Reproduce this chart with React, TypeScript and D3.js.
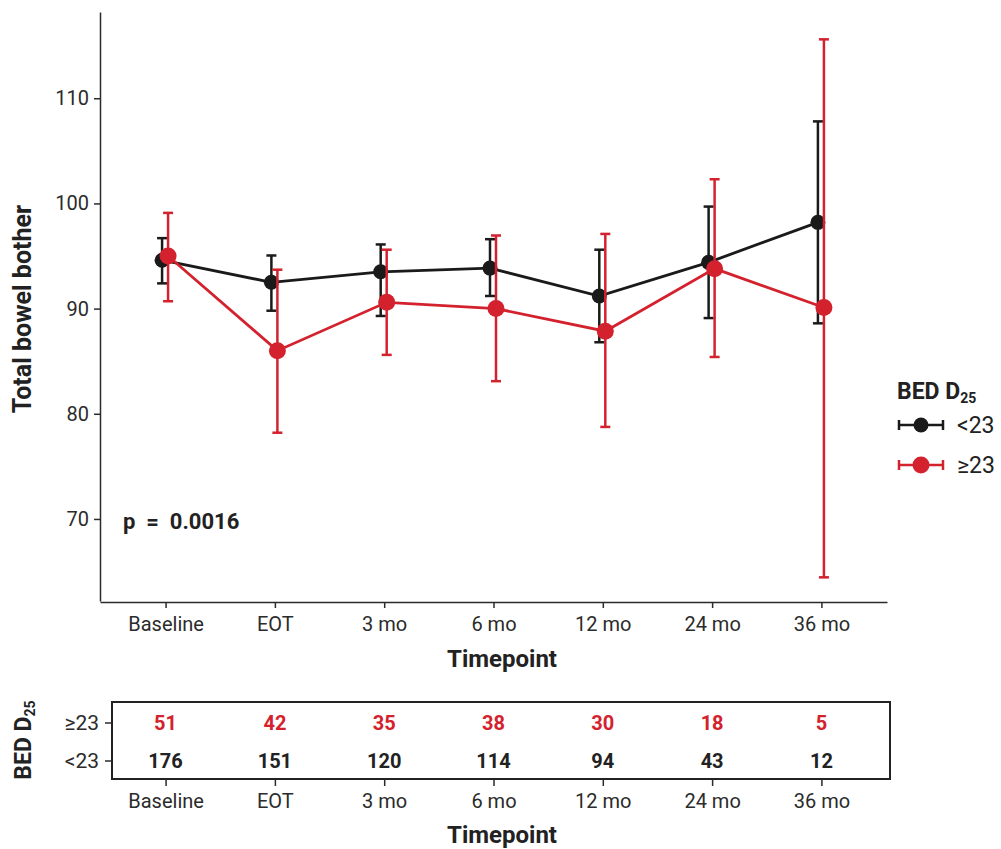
import React, { useEffect, useRef } from "react";
import * as d3 from "d3";

// timepoints on the x axis
const timepoints = ["Baseline", "EOT", "3 mo", "6 mo", "12 mo", "24 mo", "36 mo"];

// BED D25 < 23 (black)
const lowMean = [94.6, 92.5, 93.5, 93.85, 91.2, 94.4, 98.2];
const lowLower = [92.4, 89.8, 89.3, 91.2, 86.8, 89.1, 88.6];
const lowUpper = [96.7, 95.05, 96.1, 96.6, 95.6, 99.7, 107.8];

// BED D25 >= 23 (red)
const highMean = [95.0, 86.0, 90.6, 90.0, 87.85, 93.8, 90.1];
const highLower = [90.7, 78.2, 85.6, 83.1, 78.75, 85.4, 64.45];
const highUpper = [99.1, 93.7, 95.6, 96.95, 97.1, 102.3, 115.6];

// numbers at risk
const nHigh = [51, 42, 35, 38, 30, 18, 5];
const nLow = [176, 151, 120, 114, 94, 43, 12];

const yTicks = [70, 80, 90, 100, 110];

const RED = "#d3222e";
const BLACK = "#1a1a1a";
const AXIS = "#2b2b2b";
const FONT = "Roboto, 'Noto Sans', sans-serif";

export default function App() {
  const ref = useRef<SVGSVGElement | null>(null);

  useEffect(() => {
    const svg = d3.select(ref.current);
    svg.selectAll("*").remove();

    const x = d3.scalePoint<string>().domain(timepoints).range([100, 887]).padding(0.6);
    const y = d3.scaleLinear().domain([62.2, 118.2]).range([601, 12]);

    // y axis
    const yAxis = svg.append("g").attr("transform", "translate(100,0)")
      .call(d3.axisLeft(y).tickValues(yTicks).tickSize(6).tickSizeOuter(0).tickPadding(5));
    yAxis.select(".domain").attr("stroke", AXIS).attr("stroke-width", 1.5);
    yAxis.selectAll(".tick line").attr("stroke", AXIS).attr("stroke-width", 1.5);
    yAxis.selectAll(".tick text").attr("fill", AXIS).style("font-size", "20px").style("font-family", FONT);

    // x axis
    const xAxis = svg.append("g").attr("transform", "translate(0,602)")
      .call(d3.axisBottom(x).tickSize(6).tickSizeOuter(0).tickPadding(9));
    xAxis.select(".domain").attr("stroke", AXIS).attr("stroke-width", 1.5);
    xAxis.selectAll(".tick line").attr("stroke", AXIS).attr("stroke-width", 1.5);
    xAxis.selectAll(".tick text").attr("fill", AXIS).style("font-size", "20px").style("font-family", FONT);

    svg.append("text").attr("x", 502).attr("y", 667).attr("text-anchor", "middle")
      .style("font-family", FONT).style("font-size", "24px").style("font-weight", "bold").attr("fill", "#222")
      .text("Timepoint");

    svg.append("text").attr("transform", "translate(31,309) rotate(-90)").attr("text-anchor", "middle")
      .style("font-family", FONT).style("font-size", "25px").style("font-weight", "bold").attr("fill", "#222")
      .text("Total bowel bother");

    svg.append("text").attr("x", 123).attr("y", 529)
      .style("font-family", FONT).style("font-size", "22px").style("font-weight", "bold").attr("fill", "#222")
      .attr("xml:space", "preserve")
      .text("p  =  0.0016");

    // series
    const series = [
      { mean: lowMean, lo: lowLower, hi: lowUpper, color: BLACK, dx: -3.5, r: 7.5 },
      { mean: highMean, lo: highLower, hi: highUpper, color: RED, dx: 2.5, r: 8.5 },
    ];

    series.forEach(s => {
      const data = timepoints.map((t, i) => ({ t, m: s.mean[i], lo: s.lo[i], hi: s.hi[i] }));
      const px = (d: any) => (x(d.t) as number) + s.dx;
      const g = svg.append("g");

      const eb = g.selectAll(".eb").data(data).join("g");
      eb.append("line").attr("x1", px).attr("x2", px)
        .attr("y1", d => y(d.lo)).attr("y2", d => y(d.hi))
        .attr("stroke", s.color).attr("stroke-width", 2.5);
      eb.append("line").attr("x1", d => px(d) - 5).attr("x2", d => px(d) + 5)
        .attr("y1", d => y(d.hi)).attr("y2", d => y(d.hi))
        .attr("stroke", s.color).attr("stroke-width", 2.5);
      eb.append("line").attr("x1", d => px(d) - 5).attr("x2", d => px(d) + 5)
        .attr("y1", d => y(d.lo)).attr("y2", d => y(d.lo))
        .attr("stroke", s.color).attr("stroke-width", 2.5);

      const line = d3.line<any>().x(px).y(d => y(d.m));
      g.append("path").datum(data).attr("d", line).attr("fill", "none")
        .attr("stroke", s.color).attr("stroke-width", 2.8);

      g.selectAll("circle").data(data).join("circle")
        .attr("cx", px).attr("cy", d => y(d.m)).attr("r", s.r).attr("fill", s.color);
    });

    // legend
    const lg = svg.append("g");
    const legendTitle = lg.append("text").attr("x", 897).attr("y", 399)
      .style("font-family", FONT).style("font-size", "23px").style("font-weight", "bold").attr("fill", "#222");
    legendTitle.append("tspan").text("BED D");
    legendTitle.append("tspan").attr("dy", 4).style("font-size", "14px").text("25");

    const keys = [
      { label: "<23", color: BLACK, yy: 425, r: 7.5 },
      { label: "≥23", color: RED, yy: 465, r: 8.5 },
    ];
    keys.forEach(k => {
      lg.append("line").attr("x1", 899).attr("x2", 943).attr("y1", k.yy).attr("y2", k.yy)
        .attr("stroke", k.color).attr("stroke-width", 2.5);
      [899, 943].forEach(cx => lg.append("line").attr("x1", cx).attr("x2", cx)
        .attr("y1", k.yy - 5).attr("y2", k.yy + 5).attr("stroke", k.color).attr("stroke-width", 2.5));
      lg.append("circle").attr("cx", 921).attr("cy", k.yy).attr("r", k.r).attr("fill", k.color);
      lg.append("text").attr("x", 957).attr("y", k.yy + 8)
        .style("font-family", FONT).style("font-size", "23px").attr("fill", "#222").text(k.label);
    });

    // risk table
    const tb = svg.append("g");
    tb.append("rect").attr("x", 112).attr("y", 702).attr("width", 778).attr("height", 77)
      .attr("fill", "none").attr("stroke", "#222").attr("stroke-width", 2);

    const rows = [
      { label: "≥23", vals: nHigh, color: RED, yy: 723 },
      { label: "<23", vals: nLow, color: "#222", yy: 761 },
    ];
    rows.forEach(r => {
      tb.append("line").attr("x1", 105).attr("x2", 112).attr("y1", r.yy).attr("y2", r.yy)
        .attr("stroke", AXIS).attr("stroke-width", 1.5);
      tb.append("text").attr("x", 99).attr("y", r.yy).attr("dy", "0.35em").attr("text-anchor", "end")
        .style("font-family", FONT).style("font-size", "21px").attr("fill", AXIS).text(r.label);
      tb.selectAll(null).data(r.vals).join("text")
        .attr("x", (d, i) => x(timepoints[i]) as number).attr("y", r.yy).attr("dy", "0.35em")
        .attr("text-anchor", "middle")
        .style("font-family", FONT).style("font-size", "20px").style("font-weight", "bold")
        .attr("fill", r.color).text(d => d);
    });

    const tAxis = svg.append("g").attr("transform", "translate(0,779)")
      .call(d3.axisBottom(x).tickSize(7).tickSizeOuter(0).tickPadding(8));
    tAxis.select(".domain").remove();
    tAxis.selectAll(".tick line").attr("stroke", AXIS).attr("stroke-width", 1.5);
    tAxis.selectAll(".tick text").attr("fill", AXIS).style("font-size", "20px").style("font-family", FONT);

    svg.append("text").attr("x", 502).attr("y", 843).attr("text-anchor", "middle")
      .style("font-family", FONT).style("font-size", "24px").style("font-weight", "bold").attr("fill", "#222")
      .text("Timepoint");

    const tTitle = svg.append("text").attr("transform", "translate(31,740) rotate(-90)").attr("text-anchor", "middle")
      .style("font-family", FONT).style("font-size", "23px").style("font-weight", "bold").attr("fill", "#222");
    tTitle.append("tspan").text("BED D");
    tTitle.append("tspan").attr("dy", 4).style("font-size", "14px").text("25");
  }, []);

  return (
    <svg ref={ref} width={1001} height={849}
      style={{ position: "absolute", left: 0, top: 0, background: "#fff" }} />
  );
}
